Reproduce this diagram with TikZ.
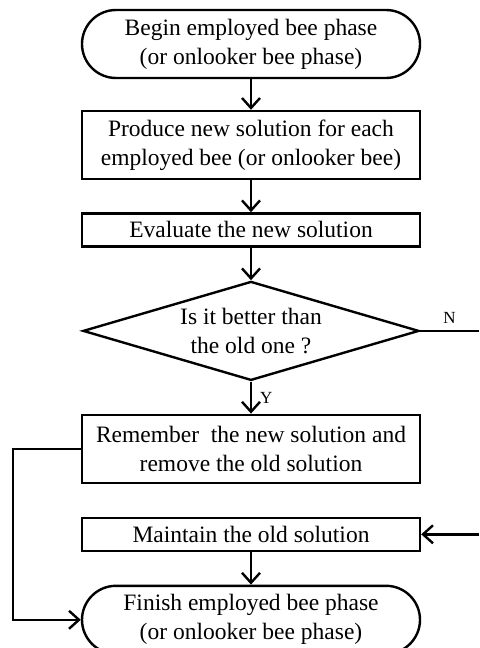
\documentclass[tikz,border=0pt]{standalone}
\usepackage{fontspec}
\setmainfont{Liberation Serif}
\usepackage{tikz}
\usetikzlibrary{positioning,arrows.meta,shapes.geometric,calc}

\begin{document}
\begin{tikzpicture}[
    line width=1.2pt,
    node distance=16pt,
    base/.style={draw, align=center, inner sep=1pt, minimum width=169pt,
                 font=\fontsize{11.75}{14.5}\selectfont},
    terminal/.style={base, rectangle, rounded corners=17pt, minimum height=34pt},
    process/.style={base, rectangle, minimum height=34pt},
    process1/.style={base, rectangle, minimum height=16.5pt},
    decision/.style={base, diamond, aspect=3.4, inner sep=0pt,
                     minimum width=168pt, minimum height=49.5pt},
    flow/.style={-{Straight Barb[length=5pt,width=9pt]}},
    lbl/.style={font=\fontsize{8.5}{10}\selectfont, inner sep=1pt}
  ]
    \useasboundingbox (0,0) rectangle (239.5pt,-324pt);

    \node[terminal] (begin) at (125.5pt,-22pt)
      {Begin employed bee phase\\(or onlooker bee phase)};
    \node[process, below=15.3pt of begin] (produce)
      {Produce new solution for each\\employed bee (or onlooker bee)};
    \node[process1, below=of produce] (evaluate) {Evaluate the new solution};
    \node[decision, below=16.3pt of evaluate] (better)
      {Is it better than\\the old one ?};
    \node[process, below=of better] (remember)
      {Remember\ \ the new solution and\\remove the old solution};
    \node[process1, below=16.3pt of remember] (maintain) {Maintain the old solution};
    \node[terminal, below=16.3pt of maintain] (finish)
      {Finish employed bee phase\\(or onlooker bee phase)};

    \coordinate (nout) at (239.5pt,0 |- better.east);
    \coordinate (nin) at (239.5pt,0 |- maintain.east);

    \draw[flow] (begin) -- (produce);
    \draw[flow] (produce) -- (evaluate);
    \draw[flow] (evaluate) -- (better);
    \draw[flow] (better) -- node[lbl, right=3pt] {Y} (remember);
    \draw (better.east) -- node[lbl, above=2pt] {N} (nout);
    \draw[flow] (nin) -- (maintain.east);
    \draw[flow] (maintain) -- (finish);
    \draw[flow] (remember.west) -- ++(-34pt,0) |- (finish.west);
  \end{tikzpicture}
\end{document}
